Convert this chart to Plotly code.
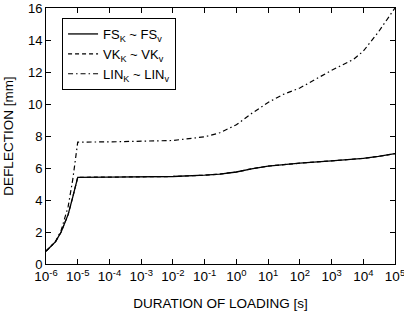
import plotly.graph_objects as go

# Data
t_fs = [1e-6, 2e-6, 3e-6, 5e-6, 7e-6, 1e-5, 1e-4, 1e-3, 1e-2, 1e-1, 3e-1, 1e0, 3e0, 1e1, 3e1, 1e2, 1e3, 1e4, 3e4, 1e5]
fs = [0.8, 1.4, 2.0, 3.1, 4.2, 5.42, 5.43, 5.45, 5.47, 5.55, 5.62, 5.75, 5.95, 6.12, 6.22, 6.3, 6.45, 6.6, 6.72, 6.9]

t_lin = [1e-6, 2e-6, 3e-6, 5e-6, 7e-6, 1e-5, 1e-4, 1e-3, 1e-2, 1e-1, 3e-1, 1e0, 3e0, 1e1, 3e1, 1e2, 1e3, 5e3, 1e4, 3e4, 1e5]
lin = [0.8, 1.4, 2.1, 3.6, 5.3, 7.62, 7.63, 7.66, 7.72, 7.95, 8.2, 8.7, 9.4, 10.1, 10.6, 11.0, 12.1, 12.8, 13.3, 14.5, 16.0]

# VK coincides with FS (hidden under the solid line)
t_vk = t_fs
vk = fs

xticks = [1e-6, 1e-5, 1e-4, 1e-3, 1e-2, 1e-1, 1e0, 1e1, 1e2, 1e3, 1e4, 1e5]
xticktext = ["10<sup>-6</sup>", "10<sup>-5</sup>", "10<sup>-4</sup>", "10<sup>-3</sup>", "10<sup>-2</sup>",
             "10<sup>-1</sup>", "10<sup>0</sup>", "10<sup>1</sup>", "10<sup>2</sup>", "10<sup>3</sup>",
             "10<sup>4</sup>", "10<sup>5</sup>"]
yticks = [0, 2, 4, 6, 8, 10, 12, 14, 16]

fig = go.Figure()
fig.add_trace(go.Scatter(x=t_vk, y=vk, mode="lines", name="VK<sub>K</sub> ~ VK<sub>v</sub>", legendrank=2,
                         line=dict(color="black", width=1.2, dash="4px,3px")))
fig.add_trace(go.Scatter(x=t_fs, y=fs, mode="lines", name="FS<sub>K</sub> ~ FS<sub>v</sub>", legendrank=1,
                         line=dict(color="black", width=1.3, dash="solid")))
fig.add_trace(go.Scatter(x=t_lin, y=lin, mode="lines", name="LIN<sub>K</sub> ~ LIN<sub>v</sub>", legendrank=3,
                         line=dict(color="black", width=1.2, dash="5px,3px,1.5px,3px")))

fig.update_layout(
    width=404, height=311,
    margin=dict(l=46, r=9, t=8, b=47),
    paper_bgcolor="white", plot_bgcolor="white",
    font=dict(family="Liberation Sans, Arial, sans-serif", size=13, color="black"),
    showlegend=True,
    legend=dict(x=0.046, y=0.961, xanchor="left", yanchor="top",
                bordercolor="black", borderwidth=1, bgcolor="white",
                font=dict(size=13), traceorder="normal", itemwidth=30,
                tracegroupgap=0),
)
fig.update_xaxes(type="log", range=[-6, 5], tickvals=xticks, ticktext=xticktext, automargin=False,
                 ticklabeloverflow="allow", tickfont=dict(size=13.5),
                 showline=True, linecolor="black", linewidth=1, mirror="ticks",
                 ticks="inside", ticklen=5, tickcolor="black", showgrid=False, zeroline=False,
                 title=dict(text="DURATION OF LOADING [s]", standoff=15, font=dict(size=13.5)))
fig.update_yaxes(range=[0, 16], tickvals=yticks, automargin=False,
                 ticklabeloverflow="allow",
                 showline=True, linecolor="black", linewidth=1, mirror="ticks",
                 ticks="inside", ticklen=5, tickcolor="black", showgrid=False, zeroline=False,
                 title=dict(text="DEFLECTION [mm]", standoff=11, font=dict(size=13.5)))

fig.write_html("out.html", config={"displayModeBar": False},
               post_script="document.body.style.margin='0px';")
